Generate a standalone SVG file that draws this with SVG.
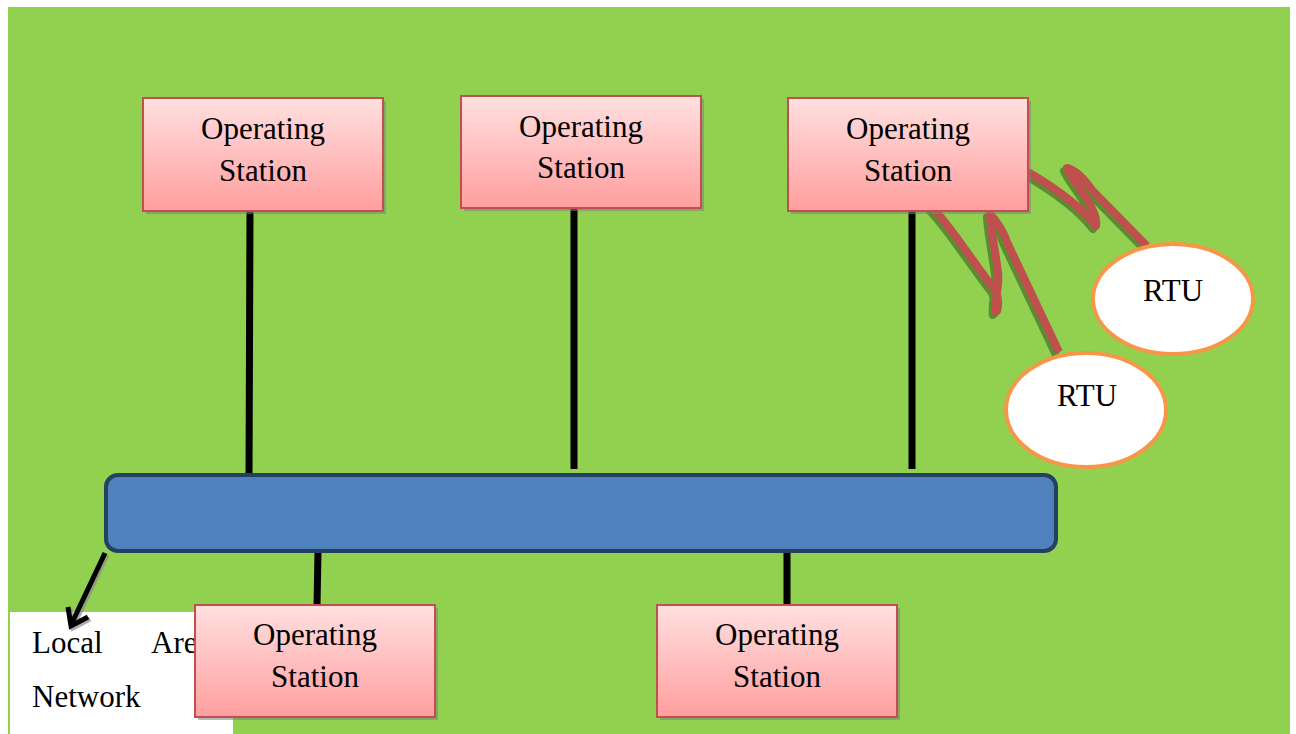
<svg xmlns="http://www.w3.org/2000/svg" width="1296" height="734" viewBox="0 0 1296 734">
  <defs>
    <linearGradient id="stationFill" x1="0" y1="0" x2="0" y2="1">
      <stop offset="0" stop-color="#ffe0e0"/>
      <stop offset="1" stop-color="#ff9e9e"/>
    </linearGradient>
  </defs>
  <style>
    .station rect.body { fill: url(#stationFill); stroke: #c0504d; stroke-width: 2; }
    .station rect.shadow { fill: #7f7f7f; opacity: 0.55; }
    .label { font-family: "Liberation Serif", "Times New Roman", serif; font-size: 31px; fill: #000; }
    .link { stroke: #000; stroke-width: 7; fill: none; }
    .radio { fill: none; stroke: #c0504d; stroke-width: 8; stroke-linejoin: round; stroke-linecap: butt; }
    .radio-shadow { fill: none; stroke: #4f7a2a; stroke-width: 8; stroke-linejoin: round; opacity: 0.8; }
    .rtu ellipse { fill: #fff; stroke: #f79646; stroke-width: 4; }
    .pointer { fill: none; stroke-width: 5; stroke-linejoin: miter; }
  </style>

  <rect x="0" y="0" width="1296" height="734" fill="#fff"/>
  <rect x="8" y="7" width="1282" height="727" fill="#92d050"/>

  <!-- wired links to the LAN -->
  <g id="connectors">
    <line class="link" x1="250" y1="211" x2="249" y2="478"/>
    <line class="link" x1="574" y1="208" x2="574" y2="469"/>
    <line class="link" x1="912" y1="211" x2="912" y2="469"/>
    <line class="link" x1="318" y1="552" x2="317" y2="606"/>
    <line class="link" x1="787" y1="552" x2="787" y2="606"/>
    <!-- radio links to RTUs -->
    <path class="radio-shadow" transform="translate(-3,3)" d="M1028,172 C1050,185 1080,205 1096,226 C1100,210 1070,178 1067,168 C1075,170 1085,180 1092,190 L1147,246"/>
    <path class="radio" d="M1028,172 C1050,185 1080,205 1096,226 C1100,210 1070,178 1067,168 C1075,170 1085,180 1092,190 L1147,246"/>
    <path class="radio-shadow" transform="translate(-3,3)" d="M932,207 C950,225 975,265 995,290 C1000,300 998,312 996,312 C994,300 1000,285 998,272 C996,255 990,225 990,214 C996,220 1004,232 1007,242 L1059,352"/>
    <path class="radio" d="M932,207 C950,225 975,265 995,290 C1000,300 998,312 996,312 C994,300 1000,285 998,272 C996,255 990,225 990,214 C996,220 1004,232 1007,242 L1059,352"/>
  </g>

  <!-- LAN bus -->
  <g id="lan">
    <rect x="106" y="475" width="950" height="76" rx="12" fill="#4f81bd" stroke="#243f60" stroke-width="4"/>
  </g>

  <g id="lan-label">
    <rect x="10" y="612" width="223" height="122" fill="#fff"/>
    <text class="label" x="32" y="653">Local</text>
    <text class="label" x="151" y="653">Area</text>
    <text class="label" x="32" y="707">Network</text>
  </g>

  <!-- pointer from the bus to its label -->
  <g id="lan-pointer">
    <g transform="translate(2,2)" stroke="#8c8c8c" opacity="0.7">
      <line class="pointer" x1="105" y1="553" x2="71" y2="625"/>
      <polyline class="pointer" points="68,607 71,626 88,617"/>
    </g>
    <g stroke="#000">
      <line class="pointer" x1="105" y1="553" x2="71" y2="625"/>
      <polyline class="pointer" points="68,607 71,626 88,617"/>
    </g>
  </g>

  <g id="station-1" class="station">
    <rect class="shadow" x="146" y="101" width="240" height="113"/>
    <rect class="body" x="143" y="98" width="240" height="113"/>
    <text class="label" x="263" y="139" text-anchor="middle">Operating</text>
    <text class="label" x="263" y="181" text-anchor="middle">Station</text>
  </g>
  <g id="station-2" class="station">
    <rect class="shadow" x="464" y="99" width="240" height="112"/>
    <rect class="body" x="461" y="96" width="240" height="112"/>
    <text class="label" x="581" y="137" text-anchor="middle">Operating</text>
    <text class="label" x="581" y="178" text-anchor="middle">Station</text>
  </g>
  <g id="station-3" class="station">
    <rect class="shadow" x="791" y="101" width="240" height="113"/>
    <rect class="body" x="788" y="98" width="240" height="113"/>
    <text class="label" x="908" y="139" text-anchor="middle">Operating</text>
    <text class="label" x="908" y="181" text-anchor="middle">Station</text>
  </g>
  <g id="station-4" class="station">
    <rect class="shadow" x="198" y="608" width="240" height="112"/>
    <rect class="body" x="195" y="605" width="240" height="112"/>
    <text class="label" x="315" y="645" text-anchor="middle">Operating</text>
    <text class="label" x="315" y="687" text-anchor="middle">Station</text>
  </g>
  <g id="station-5" class="station">
    <rect class="shadow" x="660" y="608" width="240" height="112"/>
    <rect class="body" x="657" y="605" width="240" height="112"/>
    <text class="label" x="777" y="645" text-anchor="middle">Operating</text>
    <text class="label" x="777" y="687" text-anchor="middle">Station</text>
  </g>

  <g id="rtu-1" class="rtu">
    <ellipse cx="1173" cy="299" rx="80" ry="55"/>
    <text class="label" x="1173" y="301" text-anchor="middle">RTU</text>
  </g>
  <g id="rtu-2" class="rtu">
    <ellipse cx="1086" cy="410" rx="80" ry="57"/>
    <text class="label" x="1087" y="406" text-anchor="middle">RTU</text>
  </g>
</svg>
